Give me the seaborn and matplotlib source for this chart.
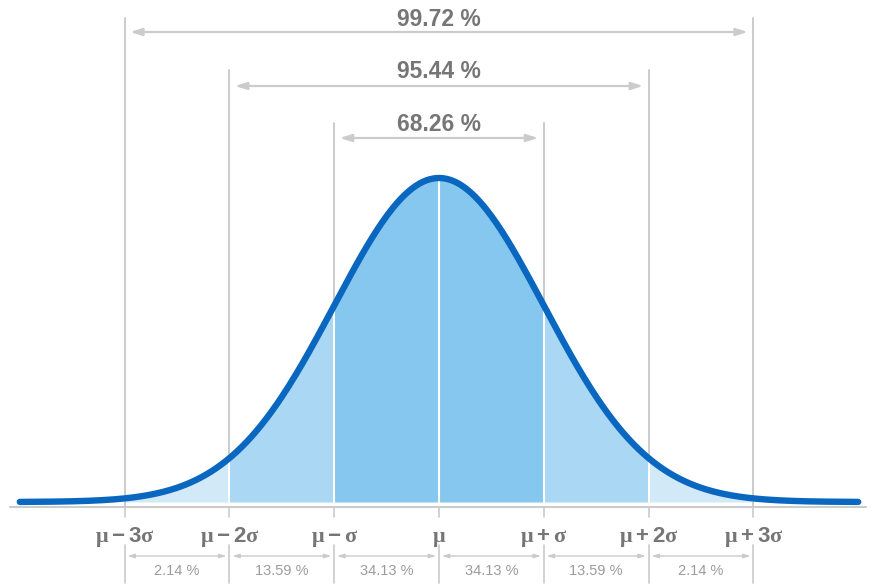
import numpy as np
import pandas as pd
import matplotlib
matplotlib.use('Agg')
import matplotlib.pyplot as plt
import seaborn as sns

# --- chart values ---
sigma_steps = [-3, -2, -1, 0, 1, 2, 3]
tick_labels = [r'$\mu-3\sigma$', r'$\mu-2\sigma$', r'$\mu-\sigma$', r'$\mu$',
               r'$\mu+\sigma$', r'$\mu+2\sigma$', r'$\mu+3\sigma$']
band_pct = [2.14, 13.59, 34.13, 34.13, 13.59, 2.14]
range_k = [1, 2, 3]
range_pct = [68.26, 95.44, 99.72]
band_colors = ['#d2e9f8', '#a9d7f4', '#86c7ef', '#86c7ef', '#a9d7f4', '#d2e9f8']

mu, sigma = 0.0, 1.0
x = np.linspace(-4, 4, 500)
curve = pd.DataFrame({'x': x, 'y': np.exp(-0.5 * ((x - mu) / sigma) ** 2)})


def density(v):
    return np.exp(-0.5 * ((v - mu) / sigma) ** 2)


# pixel helpers for layout (axes cover the whole figure)
def px(p):
    return (p - 439) / 104.8


def py(p):
    return (502 - p) / 324


GRAY = '#cbcbcb'
TEXT = '#767676'
LIGHT = '#9c9c9c'

sns.set_style('white')
plt.rcParams['font.family'] = ['Liberation Sans', 'DejaVu Sans']
# greek letters in serif, digits and signs in sans
plt.rcParams['mathtext.fontset'] = 'custom'
plt.rcParams['mathtext.rm'] = 'Liberation Sans:bold'
plt.rcParams['mathtext.it'] = 'Liberation Serif:bold'
plt.rcParams['mathtext.default'] = 'it'

fig = plt.figure(figsize=(8.75, 5.88), dpi=100)
ax = fig.add_axes([0, 0, 1, 1])
ax.set_xlim(px(0), px(875))
ax.set_ylim(py(588), py(0))
ax.axis('off')

# shaded bands
for i in range(len(band_pct)):
    xs = np.linspace(sigma_steps[i], sigma_steps[i + 1], 100)
    ax.fill_between(xs, 0, density(xs), color=band_colors[i], lw=0, zorder=1)

# white separators inside the fill
for s in sigma_steps[1:-1]:
    ax.plot([s, s], [0, density(s)], color='white', lw=1.5, zorder=2)

# gray guides above the curve up to range brackets
tops = {1: py(123), 2: py(70), 3: py(18)}
for k in range_k:
    for s in (-k, k):
        bottom = py(507) if k == 3 else density(s)
        ax.plot([s, s], [bottom, tops[k]], color=GRAY, lw=1.4, zorder=2)

# range arrows and labels
arrow_y = {1: py(138), 2: py(86), 3: py(32)}
text_y = {1: py(131), 2: py(78), 3: py(26)}
for k, pct in zip(range_k, range_pct):
    ax.annotate('', xy=(-k, arrow_y[k]), xytext=(k, arrow_y[k]),
                arrowprops=dict(arrowstyle='<|-|>,head_length=0.7,head_width=0.22',
                                color=GRAY, lw=1.6, shrinkA=4, shrinkB=4))
    ax.text(0, text_y[k], f'{pct:.2f} %', ha='center', va='baseline',
            fontsize=16.5, fontweight='bold', color=TEXT)

# curve
sns.lineplot(data=curve, x='x', y='y', ax=ax, color='#0a67bf', lw=4.6,
             solid_capstyle='round', zorder=3)

# axis line and ticks
ax.plot([px(10), px(866)], [py(507), py(507)], color=GRAY, lw=1.5, zorder=0)
for s in sigma_steps:
    ax.plot([s, s], [py(507), py(517)], color=GRAY, lw=1.2)
    ax.plot([s, s], [py(545), py(583)], color=GRAY, lw=1.2)

for s, lab in zip(sigma_steps, tick_labels):
    ax.text(s, py(542), lab, ha='center', va='baseline', fontsize=16,
            color=TEXT)

# band percentages
for i, pct in enumerate(band_pct):
    a, b = sigma_steps[i], sigma_steps[i + 1]
    ax.annotate('', xy=(a, py(556)), xytext=(b, py(556)),
                arrowprops=dict(arrowstyle='<|-|>,head_length=0.4,head_width=0.12',
                                color=GRAY, lw=1.0, shrinkA=2, shrinkB=2))
    ax.text((a + b) / 2, py(575), f'{pct:.2f} %', ha='center', va='baseline',
            fontsize=10.5, color=LIGHT)

fig.savefig('out.png', dpi=100, facecolor='white')
